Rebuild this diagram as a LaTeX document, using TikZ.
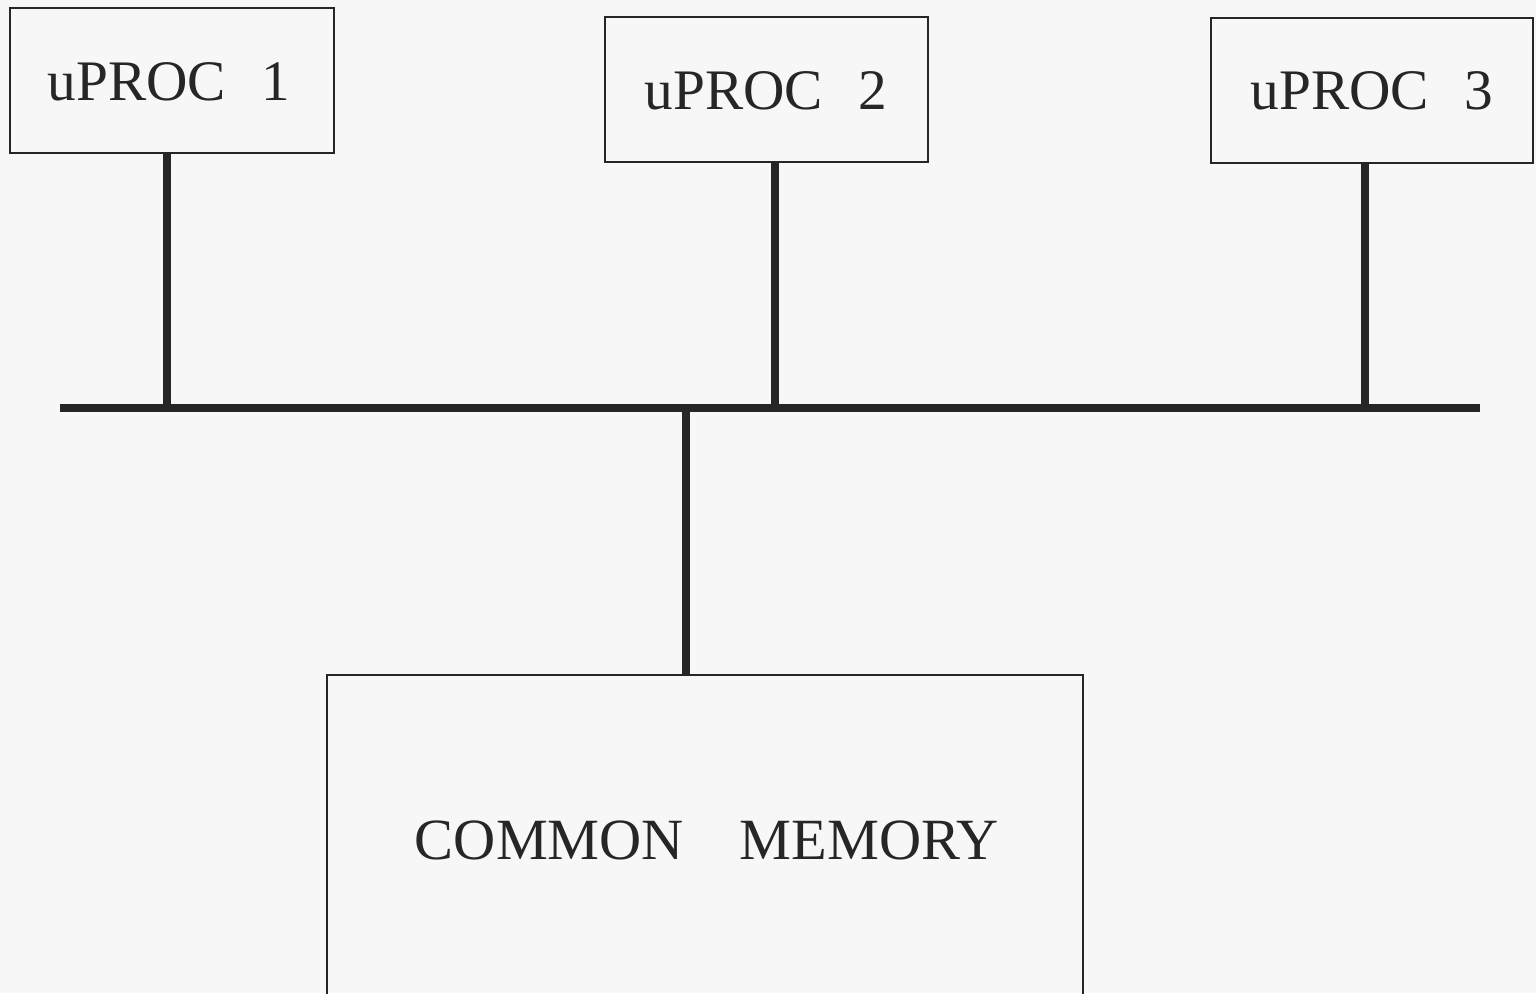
\documentclass[tikz,border=0pt]{standalone}
\usepackage{fontspec}
\setmainfont{Liberation Serif}
\begin{document}
\begin{tikzpicture}[x=0.01cm,y=-0.01cm,
  box/.style={draw=black!85,line width=0.6pt,fill=none,inner sep=0pt},
  bus/.style={line width=2pt,draw=black!85},
  lbl/.style={font=\fontsize{16.3}{18}\selectfont,text=black!85,inner sep=0pt}]
\useasboundingbox (0,0) rectangle (1536,993);
\clip (0,0) rectangle (1536,993);
\fill[white!97!black] (0,0) rectangle (1536,993);
% boxes
\draw[box] (10,8) rectangle (334,153);
\draw[box] (605,17) rectangle (928,162);
\draw[box] (1211,18) rectangle (1533,163);
\draw[box] (327,675) rectangle (1083,1010);
\node[lbl] (p1) at (169,82) {uPROC\hspace{0.62em}1};
\node[lbl] (p2) at (766,91) {uPROC\hspace{0.62em}2};
\node[lbl] (p3) at (1372,91) {uPROC\hspace{0.62em}3};
\node[lbl,font=\fontsize{16.6}{18}\selectfont] (mem) at (707,840) {COMMON\hspace{0.95em}MEMORY};
% coordinates
\coordinate (b1) at (167,153);
\coordinate (b2) at (775,162);
\coordinate (b3) at (1365,163);
\coordinate (bm) at (686,675);
\coordinate (busL) at (60,408);
\coordinate (busR) at (1480,408);
\draw[bus] (busL) -- (busR);
\draw[bus] (b1) -- (b1 |- busL);
\draw[bus] (b2) -- (b2 |- busL);
\draw[bus] (b3) -- (b3 |- busL);
\draw[bus] (bm) -- (bm |- busL);
\end{tikzpicture}
\end{document}
